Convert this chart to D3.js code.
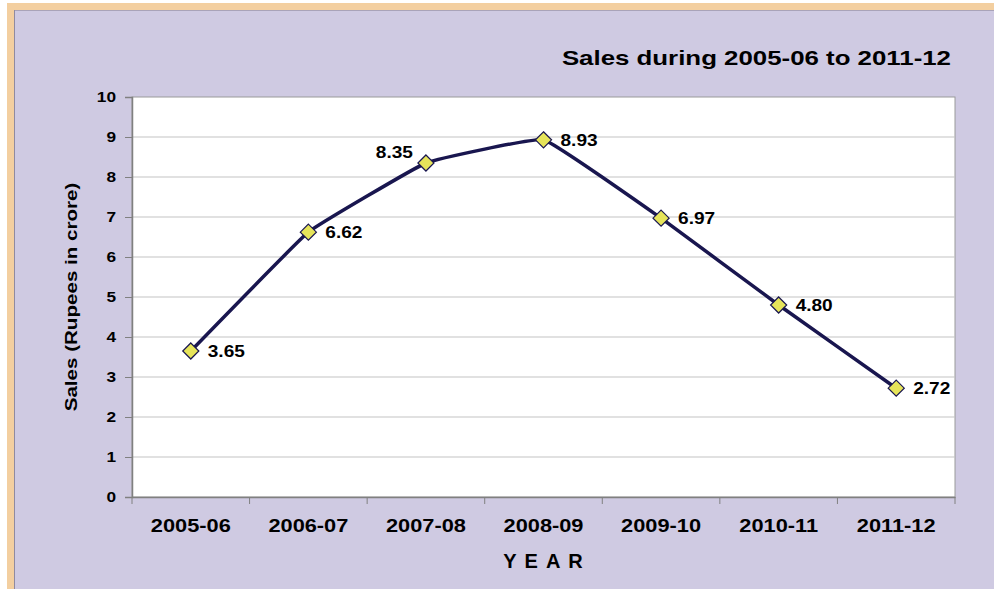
<!DOCTYPE html>
<html>
<head>
<meta charset="utf-8">
<script src="https://cdn.jsdelivr.net/npm/d3@7"></script>
<style>
  body { margin: 0; background: #fff; }
  text { font-family: "Liberation Sans", Arial, sans-serif; }
</style>
</head>
<body>
<div id="chart"></div>
<script>
var years = ["2005-06", "2006-07", "2007-08", "2008-09", "2009-10", "2010-11", "2011-12"];
var sales = [3.65, 6.62, 8.35, 8.93, 6.97, 4.80, 2.72];
var yTicks = [0, 1, 2, 3, 4, 5, 6, 7, 8, 9, 10];

var width = 994, height = 589;
var plotLeft = 132, plotRight = 955, plotTop = 97, plotBottom = 497;

// the original picture is a bit wide, so text glyphs get stretched
function stretch(sel, k) {
    sel.each(function() {
        var len = this.getComputedTextLength();
        d3.select(this)
            .attr("textLength", len * k)
            .attr("lengthAdjust", "spacingAndGlyphs");
    });
}

var svg = d3.select("#chart")
    .append("svg")
    .attr("width", width)
    .attr("height", height);

// frame: orange edge, lavender panel
svg.append("rect")
    .attr("x", 7).attr("y", 3)
    .attr("width", width - 7).attr("height", height - 3)
    .attr("fill", "#f3cfa0");

svg.append("rect")
    .attr("x", 14).attr("y", 10)
    .attr("width", width - 14).attr("height", height - 10)
    .attr("fill", "#cfcae2");

svg.append("line")
    .attr("x1", 14).attr("y1", 10.5).attr("x2", width).attr("y2", 10.5)
    .attr("stroke", "#a9a3b8").attr("stroke-width", 1);
svg.append("line")
    .attr("x1", 14.5).attr("y1", 10).attr("x2", 14.5).attr("y2", height)
    .attr("stroke", "#8f8aa0").attr("stroke-width", 1);

var x = d3.scaleBand()
    .domain(years)
    .range([plotLeft, plotRight]);

var y = d3.scaleLinear()
    .domain([0, 10])
    .range([plotBottom, plotTop]);

// plot area
svg.append("rect")
    .attr("x", plotLeft).attr("y", plotTop)
    .attr("width", plotRight - plotLeft).attr("height", plotBottom - plotTop)
    .attr("fill", "#ffffff")
    .attr("stroke", "#9a9a9a")
    .attr("stroke-width", 1);

// gridlines
svg.append("g")
    .selectAll("line")
    .data(yTicks.slice(1, -1))
    .join("line")
    .attr("x1", plotLeft).attr("x2", plotRight)
    .attr("y1", d => y(d)).attr("y2", d => y(d))
    .attr("stroke", "#c4c4c4")
    .attr("stroke-width", 1.2);

// y axis
var yAxis = svg.append("g")
    .attr("transform", "translate(" + plotLeft + ",0)")
    .call(d3.axisLeft(y).tickValues(yTicks).tickSize(7).tickPadding(9));
yAxis.select(".domain").attr("stroke", "#808080").attr("stroke-width", 1.5);
yAxis.selectAll(".tick line").attr("stroke", "#808080");
yAxis.selectAll(".tick text")
    .attr("font-size", 15)
    .attr("font-weight", "bold")
    .attr("fill", "#000")
    .call(stretch, 1.15);

// x axis
var xAxis = svg.append("g")
    .attr("transform", "translate(0," + plotBottom + ")")
    .call(d3.axisBottom(x).tickSize(0).tickPadding(22));
xAxis.select(".domain").attr("stroke", "#808080").attr("stroke-width", 1.5);
xAxis.selectAll(".tick text")
    .attr("font-size", 18)
    .attr("font-weight", "bold")
    .attr("fill", "#000")
    .call(stretch, 1.21);

// tick marks on band edges
svg.append("g")
    .selectAll("line")
    .data(years.concat(["end"]))
    .join("line")
    .attr("x1", (d, i) => plotLeft + i * x.step())
    .attr("x2", (d, i) => plotLeft + i * x.step())
    .attr("y1", plotBottom).attr("y2", plotBottom + 7)
    .attr("stroke", "#808080");

// titles
svg.append("text")
    .attr("x", 951).attr("y", 65)
    .attr("text-anchor", "end")
    .attr("font-size", 21)
    .attr("font-weight", "bold")
    .text("Sales during 2005-06 to 2011-12")
    .call(stretch, 1.23);

svg.append("text")
    .attr("x", 547).attr("y", 568)
    .attr("text-anchor", "middle")
    .attr("font-size", 20)
    .attr("font-weight", "bold")
    .attr("letter-spacing", "8px")
    .text("YEAR");

svg.append("text")
    .attr("transform", "translate(77,297) rotate(-90)")
    .attr("text-anchor", "middle")
    .attr("font-size", 17)
    .attr("font-weight", "bold")
    .text("Sales (Rupees in crore)")
    .call(stretch, 1.21);

// line, only lightly smoothed
var line = d3.line()
    .x((d, i) => x(years[i]) + x.bandwidth() / 2)
    .y(d => y(d))
    .curve(d3.curveCardinal.tension(0.75));

svg.append("path")
    .datum(sales)
    .attr("d", line)
    .attr("fill", "none")
    .attr("stroke", "#19164f")
    .attr("stroke-width", 3.5);

// markers
svg.append("g")
    .selectAll("path")
    .data(sales)
    .join("path")
    .attr("transform", (d, i) => "translate(" + (x(years[i]) + x.bandwidth() / 2) + "," + y(d) + ")")
    .attr("d", d3.symbol().type(d3.symbolDiamond2).size(165))
    .attr("fill", "#e6e45a")
    .attr("stroke", "#19164f")
    .attr("stroke-width", 1.2);

// data labels
svg.append("g")
    .selectAll("text")
    .data(sales)
    .join("text")
    .attr("x", (d, i) => x(years[i]) + x.bandwidth() / 2 + (i == 2 ? -13 : 17))
    .attr("y", (d, i) => y(d) + (i == 2 ? -5 : 6))
    .attr("text-anchor", (d, i) => i == 2 ? "end" : "start")
    .attr("font-size", 16)
    .attr("font-weight", "bold")
    .text(d => d.toFixed(2))
    .call(stretch, 1.19);
</script>
</body>
</html>
